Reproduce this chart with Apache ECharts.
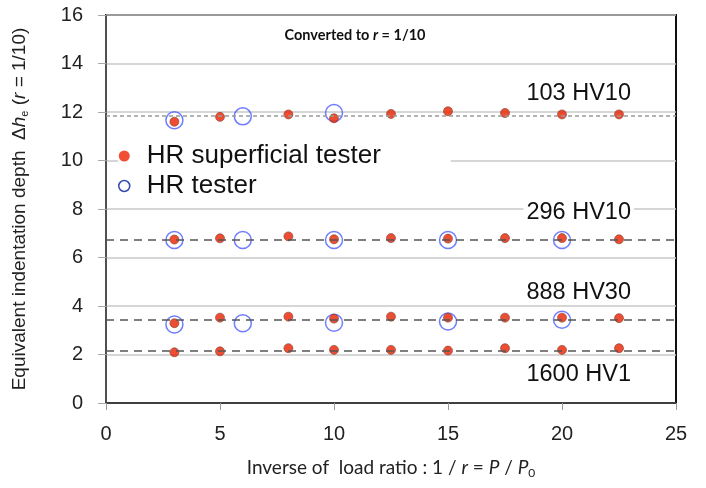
<!DOCTYPE html>
<html><head><meta charset="utf-8">
<script src="https://cdn.jsdelivr.net/npm/echarts@6/dist/echarts.min.js"></script>
<style>html,body{margin:0;padding:0;background:#fff}#c{width:706px;height:488px}</style>
</head><body><div id="c"></div>
<script>
// Data
const xTicks = [0, 5, 10, 15, 20, 25];
const yTicks = [0, 2, 4, 6, 8, 10, 12, 14, 16];
const superX = [3, 5, 8, 10, 12.5, 15, 17.5, 20, 22.5];
const super103 = [11.6, 11.8, 11.9, 11.74, 11.92, 12.03, 11.96, 11.9, 11.9];
const super296 = [6.74, 6.79, 6.87, 6.75, 6.8, 6.78, 6.8, 6.8, 6.75];
const super888 = [3.29, 3.52, 3.56, 3.48, 3.56, 3.52, 3.52, 3.52, 3.5];
const super1600 = [2.09, 2.13, 2.26, 2.19, 2.19, 2.16, 2.26, 2.19, 2.26];
const hrX = [3, 6, 10, 15, 20];
const hr103 = [11.66, 11.82, 11.96];
const hr296 = [6.72, 6.72, 6.72, 6.72, 6.72];
const hr888 = [3.24, 3.29, 3.31, 3.36, 3.43];
const refLevels = [11.85, 6.75, 3.43, 2.16];
const refLabels = ['103 HV10', '296 HV10', '888 HV30', '1600 HV1'];

const superData = [];
[super103, super296, super888, super1600].forEach(arr => arr.forEach((v, i) => superData.push([superX[i], v])));
const hrData = [];
[hr103, hr296, hr888].forEach(arr => arr.forEach((v, i) => hrData.push([hrX[i], v])));

const lblBase = {fontFamily: 'Liberation Sans, Arial', fontSize: 23.5, color: '#111', backgroundColor: '#fff', padding: [0, 3]};
const lblDist = [[42, 10], [42, 15], [42, 15], [42, 12]];
const markData = refLevels.map((v, i) => ({
  yAxis: v,
  lineStyle: i === 0 ? {color: '#9a9a9a', type: [4, 3], width: 1.5} : {color: '#555', type: [8, 6], width: 1.5},
  label: Object.assign({show: true, formatter: refLabels[i],
    position: i === 3 ? 'insideEndBottom' : 'insideEndTop',
    distance: lblDist[i]}, lblBase)
}));

const chart = echarts.init(document.getElementById('c'));
chart.setOption({
  animation: false,
  backgroundColor: '#fff',
  title: {
    text: 'Converted to {i|r} = 1/10', left: 350, top: 23, textAlign: 'center',
    textStyle: {fontFamily: 'Lato', fontWeight: 'bold', fontSize: 14.5, color: '#111',
      rich: {i: {fontFamily: 'Lato', fontWeight: 'bold', fontStyle: 'italic', fontSize: 14.5, color: '#111'}}}
  },
  grid: {left: 106, right: 30, top: 15, bottom: 85, show: true, borderColor: '#111', borderWidth: 2, backgroundColor: 'transparent'},
  legend: {
    data: [
      {name: 'HR superficial tester', icon: 'circle', itemStyle: {color: '#ee2200', borderWidth: 0}},
      {name: 'HR tester', icon: 'circle', itemStyle: {color: '#fff', borderColor: '#001a9c', borderWidth: 1.5}}
    ],
    orient: 'vertical', left: 118, top: 143,
    itemGap: 4, itemWidth: 11, itemHeight: 11, backgroundColor: '#fff', padding: [0, 70, 0, 0],
    textStyle: {fontFamily: 'Liberation Sans, Arial', fontSize: 26, color: '#111', padding: [0, 0, 0, 12]}
  },
  xAxis: {
    type: 'value', min: 0, max: 25, interval: 5,
    name: 'Inverse of  load ratio : 1 / {i|r} = {i|P} / {i|P}{s|0}', nameLocation: 'middle', nameGap: 54,
    nameTextStyle: {fontFamily: 'Lato', fontSize: 19, color: '#222',
      rich: {i: {fontFamily: 'Lato', fontStyle: 'italic', fontSize: 19, color: '#222'},
             s: {fontFamily: 'Lato', fontSize: 12, color: '#222', verticalAlign: 'bottom', padding: [10, 0, 0, 0]}}},
    axisLine: {lineStyle: {color: '#222', width: 1.5}},
    axisTick: {show: true, length: 7, lineStyle: {color: '#999'}},
    axisLabel: {fontFamily: 'Liberation Sans, Arial', fontSize: 20, color: '#222', margin: 21,
      formatter: v => xTicks.includes(v) ? String(v) : ''},
    splitLine: {show: false}
  },
  yAxis: {
    type: 'value', min: 0, max: 16, interval: 2,
    name: 'Equivalent indentation depth  Δ{i|h}{s|e} ({i|r} = 1/10)', nameLocation: 'middle', nameGap: 76, nameRotate: 90,
    nameTextStyle: {fontFamily: 'Liberation Sans, Arial', fontSize: 19, color: '#222',
      rich: {i: {fontFamily: 'Liberation Sans, Arial', fontStyle: 'italic', fontSize: 19, color: '#222'},
             s: {fontFamily: 'Liberation Sans, Arial', fontSize: 11, color: '#222', verticalAlign: 'bottom', padding: [9, 0, 0, 0]}}},
    axisLine: {show: true, lineStyle: {color: '#666', width: 1.5}},
    axisTick: {show: true, length: 8, lineStyle: {color: '#aaa'}},
    axisLabel: {fontFamily: 'Liberation Sans, Arial', fontSize: 20, color: '#222', margin: 23,
      formatter: v => yTicks.includes(v) ? String(v) : ''},
    splitLine: {lineStyle: {color: '#c8c8c8', width: 1.5}}
  },
  series: [
    {
      name: 'HR tester', type: 'scatter', data: hrData, symbol: 'circle', symbolSize: 17, z: 2,
      itemStyle: {color: 'transparent', borderColor: '#4a5cff', borderWidth: 1.5}
    },
    {
      name: 'HR superficial tester', type: 'scatter', data: superData, symbol: 'circle', symbolSize: 9, z: 3,
      itemStyle: {color: '#e82000', borderColor: '#884433', borderWidth: 0.8},
      markLine: {silent: true, symbol: 'none', data: markData}
    }
  ]
});
</script></body></html>
